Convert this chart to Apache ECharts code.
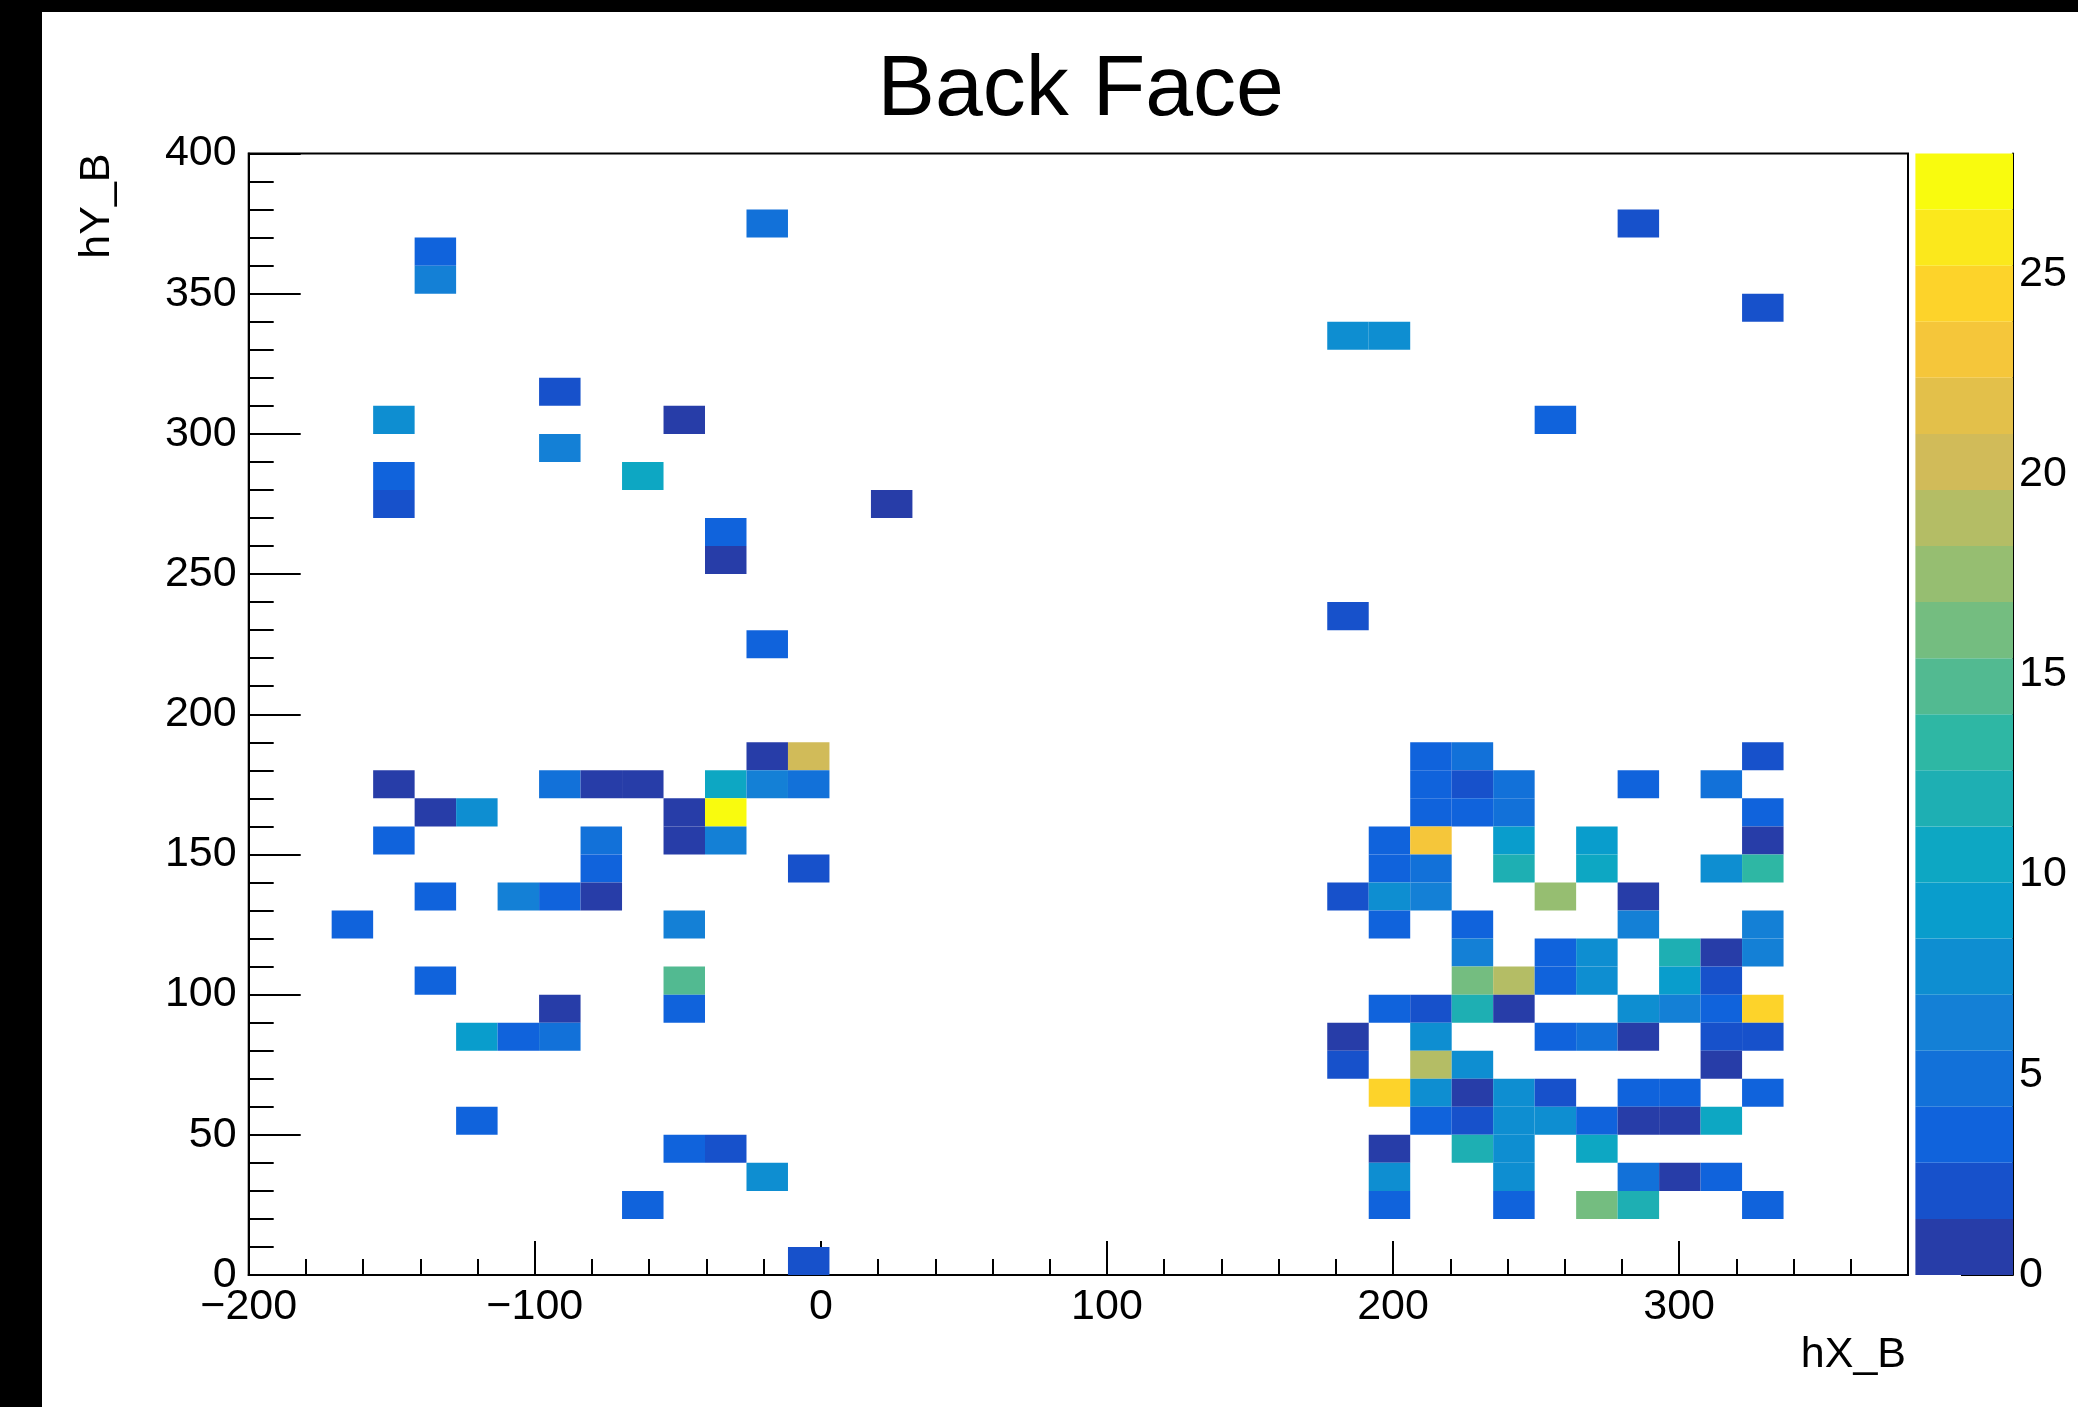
<!DOCTYPE html>
<html>
<head>
<meta charset="utf-8">
<title>Back Face</title>
<script src="https://cdn.jsdelivr.net/npm/echarts@6.0.0/dist/echarts.min.js"></script>
<style>
	html, body { margin: 0; padding: 0; background: #000; }
	#chart { position: absolute; left: 42px; top: 12px; width: 2036px; height: 1395px; background: #fff; }
</style>
</head>
<body>
<div id="chart"></div>
<script>
// binning of the TH2 (hX_B vs hY_B)
const xLow = -200, xHigh = 380, xBins = 40;
const yLow = 0, yHigh = 400, yBins = 40;
const zMax = 28, nContours = 20;

const xTicks = [-200, -100, 0, 100, 200, 300];
const zTicks = [0, 5, 10, 15, 20, 25];

// filled bins: [ix, iy, entries]
const upperLeft = [
	[12, 37, 5], [4, 36, 3], [4, 35, 6], [7, 31, 2], [3, 30, 8], [10, 30, 1],
	[7, 29, 6], [3, 28, 3], [9, 28, 10], [3, 27, 2], [15, 27, 1], [11, 26, 3],
	[11, 25, 1], [12, 22, 3]
];
const upperRight = [
	[33, 37, 2], [36, 34, 2], [26, 33, 8], [27, 33, 8], [31, 30, 3], [26, 23, 2]
];
const lowerLeft = [
	[12, 18, 1], [13, 18, 20],
	[3, 17, 1], [7, 17, 5], [8, 17, 1], [9, 17, 1], [11, 17, 10], [12, 17, 6], [13, 17, 5],
	[4, 16, 1], [5, 16, 8], [10, 16, 1], [11, 16, 28],
	[3, 15, 3], [8, 15, 5], [10, 15, 1], [11, 15, 6],
	[8, 14, 3], [13, 14, 2],
	[4, 13, 3], [6, 13, 6], [7, 13, 3], [8, 13, 1],
	[2, 12, 3], [10, 12, 6],
	[4, 10, 3], [10, 10, 15],
	[7, 9, 1], [10, 9, 3],
	[5, 8, 9], [6, 8, 3], [7, 8, 5],
	[5, 5, 3],
	[10, 4, 3], [11, 4, 2],
	[12, 3, 8],
	[9, 2, 3],
	[13, 0, 2]
];
const lowerRight = [
	[28, 18, 3], [29, 18, 5], [36, 18, 2],
	[28, 17, 3], [29, 17, 2], [30, 17, 5], [33, 17, 3], [35, 17, 5],
	[28, 16, 3], [29, 16, 3], [30, 16, 5], [36, 16, 3],
	[27, 15, 3], [28, 15, 23], [30, 15, 9], [32, 15, 9], [36, 15, 1],
	[27, 14, 3], [28, 14, 5], [30, 14, 12], [32, 14, 10], [35, 14, 8], [36, 14, 13],
	[26, 13, 2], [27, 13, 8], [28, 13, 6], [31, 13, 18], [33, 13, 1],
	[27, 12, 3], [29, 12, 3], [33, 12, 6], [36, 12, 6],
	[29, 11, 6], [31, 11, 3], [32, 11, 8], [34, 11, 12], [35, 11, 1], [36, 11, 6],
	[29, 10, 16], [30, 10, 19], [31, 10, 3], [32, 10, 8], [34, 10, 9], [35, 10, 2],
	[27, 9, 3], [28, 9, 2], [29, 9, 12], [30, 9, 1], [33, 9, 8], [34, 9, 6], [35, 9, 3], [36, 9, 24],
	[26, 8, 1], [28, 8, 8], [31, 8, 3], [32, 8, 5], [33, 8, 1], [35, 8, 2], [36, 8, 2],
	[26, 7, 2], [28, 7, 19], [29, 7, 8], [35, 7, 1],
	[27, 6, 24], [28, 6, 8], [29, 6, 1], [30, 6, 8], [31, 6, 2], [33, 6, 3], [34, 6, 3], [36, 6, 3],
	[28, 5, 3], [29, 5, 2], [30, 5, 8], [31, 5, 8], [32, 5, 3], [33, 5, 1], [34, 5, 1], [35, 5, 10],
	[27, 4, 1], [29, 4, 12], [30, 4, 8], [32, 4, 10],
	[27, 3, 8], [30, 3, 8], [33, 3, 5], [34, 3, 1], [35, 3, 3],
	[27, 2, 3], [30, 2, 3], [32, 2, 16], [33, 2, 12], [36, 2, 3]
];

const xStep = (xHigh - xLow) / xBins;
const yStep = (yHigh - yLow) / yBins;

// ROOT kBird palette
const birdStops = [0.0, 0.125, 0.25, 0.375, 0.5, 0.625, 0.75, 0.875, 1.0];
const birdR = [0.2082, 0.0592, 0.0780, 0.0232, 0.1802, 0.5301, 0.8186, 0.9956, 0.9764];
const birdG = [0.1664, 0.3599, 0.5041, 0.6419, 0.7178, 0.7492, 0.7328, 0.7862, 0.9832];
const birdB = [0.5293, 0.8684, 0.8385, 0.7914, 0.6425, 0.4662, 0.3499, 0.1968, 0.0539];

function birdColor(t) {
	let s = 1;
	while (s < birdStops.length - 1 && t > birdStops[s]) s++;
	const f = (t - birdStops[s - 1]) / (birdStops[s] - birdStops[s - 1]);
	const mix = arr => Math.round(255 * (arr[s - 1] + f * (arr[s] - arr[s - 1])));
	return "rgb(" + mix(birdR) + "," + mix(birdG) + "," + mix(birdB) + ")";
}

const bandColors = [];
for (let k = 0; k < nContours; k++) {
	const idx = Math.floor((k + 0.99) * 255 / nContours);
	bandColors.push(birdColor(idx / 254));
}
const bands = bandColors.map((c, k) => [k]);

function contourOf(n) {
	return Math.min(nContours - 1, Math.floor(n * nContours / zMax));
}

const xMinorTicks = [];
for (let v = xLow + 20; v < xHigh; v += 20) {
	if (xTicks.indexOf(v) < 0) xMinorTicks.push(v);
}

const fontFamily = "Liberation Sans";
const black = "#000";
const minusFmt = v => (v < 0 ? "\u2212" + Math.abs(v) : String(v));

const chart = echarts.init(document.getElementById("chart"));

chart.setOption({
	animation: false,
	backgroundColor: "#fff",
	title: {
		text: "Back Face",
		left: 1038.7,
		top: 36,
		padding: 0,
		textAlign: "center",
		textStyle: { fontFamily: fontFamily, fontSize: 86, fontWeight: "normal", color: black }
	},
	grid: [
		{
			left: 206.7, top: 141.5, width: 1659.3, height: 1121.5,
			show: true, borderColor: black, borderWidth: 2, backgroundColor: "transparent",
			outerBoundsMode: "none"
		},
		{
			left: 1873.4, top: 141.5, width: 97.6, height: 1121.5,
			outerBoundsMode: "none"
		}
	],
	xAxis: [
		{
			type: "value", gridIndex: 0, position: "bottom",
			min: xLow, max: xHigh,
			name: "hX_B", nameLocation: "end", nameGap: -2,
			nameTextStyle: {
				fontFamily: fontFamily, fontSize: 43, color: black,
				align: "right", verticalAlign: "top", padding: [59, 0, 0, 0]
			},
			axisLine: { show: true, onZero: false, lineStyle: { color: black, width: 2 } },
			axisTick: { show: true, inside: true, length: 34, customValues: xTicks, lineStyle: { color: black, width: 2 } },
			axisLabel: {
				show: true, customValues: xTicks, formatter: minusFmt, margin: 11,
				fontFamily: fontFamily, fontSize: 43, color: black
			},
			splitLine: { show: false }
		},
		{
			type: "value", gridIndex: 0, position: "bottom",
			min: xLow, max: xHigh,
			axisLine: { show: false, onZero: false },
			axisTick: { show: true, inside: true, length: 16, customValues: xMinorTicks, lineStyle: { color: black, width: 2 } },
			axisLabel: { show: false },
			splitLine: { show: false }
		},
		{
			type: "value", gridIndex: 1, min: 0, max: 1, show: false,
			axisLine: { onZero: false }
		}
	],
	yAxis: [
		{
			type: "value", gridIndex: 0, position: "left",
			min: yLow, max: yHigh, interval: 50,
			name: "hY_B", nameLocation: "end", nameGap: 0, nameRotate: 90,
			nameTextStyle: {
				fontFamily: fontFamily, fontSize: 43, color: black,
				align: "right", verticalAlign: "bottom", padding: [0, 0, 130, 0]
			},
			axisLine: { show: true, onZero: false, lineStyle: { color: black, width: 2 } },
			axisTick: { show: true, inside: true, length: 52, lineStyle: { color: black, width: 2 } },
			minorTick: { show: true, splitNumber: 5, length: 25, lineStyle: { color: black, width: 2 } },
			axisLabel: { show: true, margin: 12, fontFamily: fontFamily, fontSize: 43, color: black },
			splitLine: { show: false },
			minorSplitLine: { show: false }
		},
		{
			type: "value", gridIndex: 1, position: "right",
			min: 0, max: zMax,
			axisLine: { show: true, onZero: false, lineStyle: { color: black, width: 2 } },
			axisTick: { show: true, inside: true, length: 52, customValues: zTicks, lineStyle: { color: black, width: 2 } },
			axisLabel: { show: true, customValues: zTicks, margin: 6, fontFamily: fontFamily, fontSize: 43, color: black },
			splitLine: { show: false }
		}
	],
	series: [
		{
			type: "custom",
			name: "hXY_B",
			xAxisIndex: 0,
			yAxisIndex: 0,
			data: upperLeft.concat(upperRight, lowerLeft, lowerRight),
			renderItem: (params, api) => {
				const x0 = xLow + api.value(0) * xStep;
				const y0 = yLow + api.value(1) * yStep;
				const a = api.coord([x0, y0 + yStep]);
				const b = api.coord([x0 + xStep, y0]);
				return {
					type: "rect",
					shape: { x: a[0], y: a[1], width: b[0] - a[0], height: b[1] - a[1] },
					style: { fill: bandColors[contourOf(api.value(2))] }
				};
			},
			z: 1
		},
		{
			type: "custom",
			name: "palette",
			xAxisIndex: 2,
			yAxisIndex: 1,
			data: bands,
			renderItem: (params, api) => {
				const k = api.value(0);
				const a = api.coord([0, (k + 1) * zMax / nContours]);
				const b = api.coord([1, k * zMax / nContours]);
				return {
					type: "rect",
					shape: { x: a[0], y: a[1], width: b[0] - a[0], height: b[1] - a[1] },
					style: { fill: bandColors[k] }
				};
			},
			z: 1
		}
	]
});
</script>
</body>
</html>
